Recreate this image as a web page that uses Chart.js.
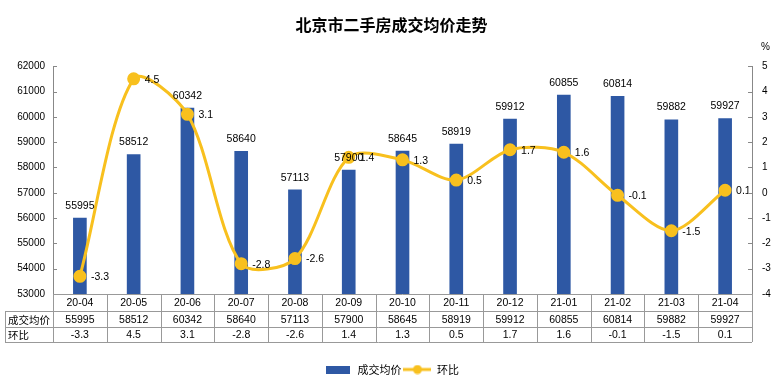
<!DOCTYPE html>
<html><head><meta charset="utf-8">
<script src="https://cdn.jsdelivr.net/npm/chart.js@4.4.1/dist/chart.umd.min.js"></script>
<style>html,body{margin:0;padding:0;background:#fff}#wrap{width:783px;height:382px;position:relative}</style>
</head><body><div id="wrap"><canvas id="c" width="783" height="382"></canvas></div>
<script>
const categories = ['20-04','20-05','20-06','20-07','20-08','20-09','20-10','20-11','20-12','21-01','21-02','21-03','21-04'];
const avgPrice = [55995,58512,60342,58640,57113,57900,58645,58919,59912,60855,60814,59882,59927];
const momChange = [-3.3,4.5,3.1,-2.8,-2.6,1.4,1.3,0.5,1.7,1.6,-0.1,-1.5,0.1];
const priceAxis = {min:53000, max:62000, step:1000};
const pctAxis = {min:-4, max:5, step:1};
const seriesNames = ['成交均价','环比'];
const titleText = '北京市二手房成交均价走势';
const unitText = '%';

const BAR_COLOR = '#2E58A4';
const LINE_COLOR = '#F8C01E';
const GRID_COLOR = '#999999';
const NUM_FONT = '"Liberation Sans", Arial, sans-serif';
const CJK_FONT = '"Noto Sans CJK SC", sans-serif';

function makeIcon(type){
  const c = document.createElement('canvas');
  if(type==='bar'){ c.width=24; c.height=8; const g=c.getContext('2d'); g.fillStyle=BAR_COLOR; g.fillRect(0,0,24,8); }
  else { c.width=28; c.height=10; const g=c.getContext('2d'); g.strokeStyle=LINE_COLOR; g.lineWidth=3; g.beginPath(); g.moveTo(0,5); g.lineTo(28,5); g.stroke(); g.fillStyle=LINE_COLOR; g.beginPath(); g.arc(14,5,4.5,0,Math.PI*2); g.fill(); }
  return c;
}
const barIcon = makeIcon('bar'), lineIcon = makeIcon('line');

const tablePlugin = {
  id:'tablePlugin',
  afterDatasetsDraw(chart){
    const ctx = chart.ctx;
    const barMeta = chart.getDatasetMeta(1);
    const lineMeta = chart.getDatasetMeta(0);
    ctx.save();
    ctx.font = '10.5px ' + NUM_FONT;
    ctx.fillStyle = '#000';
    ctx.textAlign = 'center';
    ctx.textBaseline = 'bottom';
    barMeta.data.forEach((el,i)=>{ ctx.fillText(String(avgPrice[i]), el.x, el.y - 7); });
    ctx.textAlign = 'left';
    ctx.textBaseline = 'middle';
    lineMeta.data.forEach((el,i)=>{ ctx.fillText(momChange[i].toFixed(1), el.x + 11, el.y + 1); });
    ctx.restore();
  },
  afterDraw(chart){
    const ctx = chart.ctx, a = chart.chartArea;
    const xs = chart.scales.x, yL = chart.scales.y, yR = chart.scales.y1;
    ctx.save();
    ctx.strokeStyle = '#888'; ctx.lineWidth = 1;
    ctx.beginPath();
    yL.ticks.forEach(t=>{ const y=Math.round(yL.getPixelForValue(t.value))+0.5; ctx.moveTo(a.left, y); ctx.lineTo(a.left+4, y); });
    yR.ticks.forEach(t=>{ const y=Math.round(yR.getPixelForValue(t.value))+0.5; ctx.moveTo(a.right-4, y); ctx.lineTo(a.right, y); });
    ctx.stroke();
    ctx.fillStyle = '#000'; ctx.font = '10px ' + NUM_FONT; ctx.textAlign='left'; ctx.textBaseline='middle';
    ctx.fillText(unitText, a.right + 9, 47);
    const rowY = [a.bottom, a.bottom+17, a.bottom+33, a.bottom+48];
    const labelLeft = 5;
    const n = categories.length;
    const cw = (a.right - a.left)/n;
    ctx.strokeStyle = GRID_COLOR; ctx.lineWidth = 1;
    ctx.beginPath();
    const px = v=>Math.round(v)+0.5;
    ctx.moveTo(a.left, px(rowY[0])); ctx.lineTo(a.right, px(rowY[0]));
    for(let r=1;r<4;r++){ ctx.moveTo(labelLeft, px(rowY[r])); ctx.lineTo(a.right, px(rowY[r])); }
    ctx.moveTo(px(labelLeft), rowY[1]); ctx.lineTo(px(labelLeft), rowY[3]);
    for(let i=0;i<=n;i++){
      const x = i<n ? xs.getPixelForValue(i) - cw/2 : xs.getPixelForValue(n-1) + cw/2;
      ctx.moveTo(px(x), rowY[0]); ctx.lineTo(px(x), rowY[3]);
    }
    ctx.stroke();
    ctx.fillStyle = '#000';
    ctx.textBaseline = 'middle';
    ctx.textAlign = 'center';
    ctx.font = '10.5px ' + NUM_FONT;
    categories.forEach((c,i)=>{
      const x = xs.getPixelForValue(i);
      ctx.fillText(c, x, (rowY[0]+rowY[1])/2+1);
      ctx.fillText(String(avgPrice[i]), x, (rowY[1]+rowY[2])/2+1);
      ctx.fillText(momChange[i].toFixed(1), x, (rowY[2]+rowY[3])/2+1);
    });
    ctx.textAlign = 'left';
    ctx.font = '10.5px ' + CJK_FONT;
    ctx.fillText(seriesNames[0], labelLeft+3, (rowY[1]+rowY[2])/2+1);
    ctx.fillText(seriesNames[1], labelLeft+3, (rowY[2]+rowY[3])/2+1);
    ctx.restore();
  }
};

new Chart(document.getElementById('c'), {
  data:{
    labels: categories,
    datasets:[
      {type:'line', label:seriesNames[1], data:momChange, yAxisID:'y1', order:0,
       borderColor:LINE_COLOR, backgroundColor:LINE_COLOR, borderWidth:3, tension:0.3,
       pointRadius:5, pointHoverRadius:5, pointBackgroundColor:LINE_COLOR, pointBorderColor:LINE_COLOR},
      {type:'bar', label:seriesNames[0], data:avgPrice, yAxisID:'y', order:1,
       backgroundColor:BAR_COLOR, barThickness:13}
    ]
  },
  options:{
    responsive:false, animation:false, devicePixelRatio:1,
    layout:{padding:{left:0,right:0,top:0,bottom:-3}},
    plugins:{
      title:{display:true, text:titleText, color:'#000', font:{family:CJK_FONT, size:16, weight:'bold'}, padding:{top:15,bottom:32}},
      legend:{display:true, position:'bottom',
        labels:{usePointStyle:true, pointStyleWidth:28, color:'#000', font:{family:CJK_FONT, size:11}, padding:2,
          generateLabels(chart){
            return [
              {text:seriesNames[0], pointStyle:barIcon, fillStyle:BAR_COLOR, strokeStyle:BAR_COLOR, lineWidth:0, datasetIndex:1, hidden:false},
              {text:seriesNames[1], pointStyle:lineIcon, fillStyle:LINE_COLOR, strokeStyle:LINE_COLOR, lineWidth:0, datasetIndex:0, hidden:false}
            ];
          }}},
      tooltip:{enabled:false}
    },
    scales:{
      x:{type:'category', offset:true, grid:{display:false, drawTicks:false}, border:{display:false},
         ticks:{display:false}, afterFit(s){ s.height = 68; }},
      y:{position:'left', min:priceAxis.min, max:priceAxis.max,
         ticks:{stepSize:priceAxis.step, color:'#000', font:{family:NUM_FONT, size:10}, padding:8, callback:v=>String(v)},
         grid:{display:false, drawTicks:false}, border:{display:true, color:'#888'},
         afterFit(s){ s.width = 53; }},
      y1:{position:'right', min:pctAxis.min, max:pctAxis.max,
         ticks:{stepSize:pctAxis.step, color:'#000', font:{family:NUM_FONT, size:10}, padding:10, callback:v=>String(v)},
         grid:{display:false, drawTicks:false}, border:{display:true, color:'#888'},
         afterFit(s){ s.width = 31; }}
    }
  },
  plugins:[tablePlugin]
});
</script></body></html>
